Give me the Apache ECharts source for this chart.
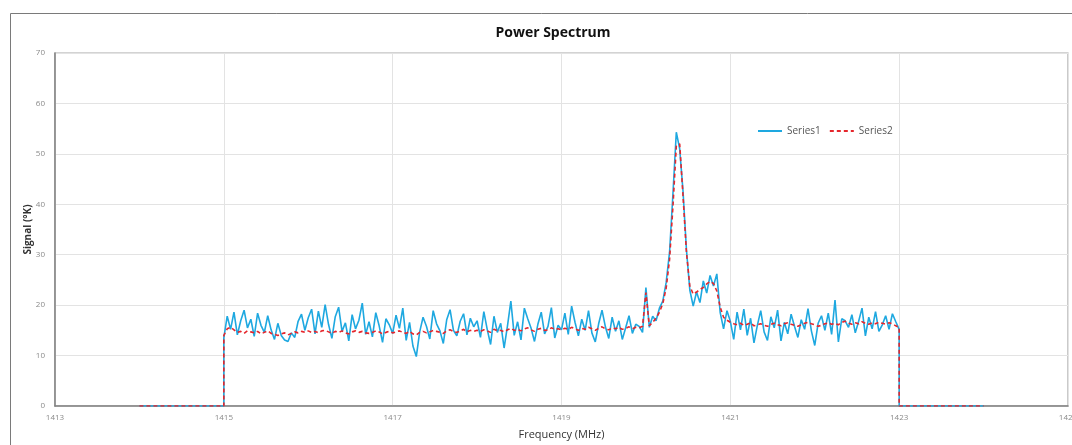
<!DOCTYPE html>
<html>
<head>
<meta charset="utf-8">
<script src="https://cdn.jsdelivr.net/npm/echarts@6/dist/echarts.min.js"></script>
<style>
  html, body { margin: 0; padding: 0; background: #fff; }
  #chart { width: 1072px; height: 445px; }
</style>
</head>
<body>
<div id="chart"></div>
<script>
// frequency grid of the measured band (MHz)
const bandStart = 1415
const bandStep = 0.04
// zero padding outside the band
const padLeft = 1414
const padRight = 1424

// Series1 - raw signal (°K), 1415.00 .. 1423.00
const series1 = [
  // 1415
  13.5, 17.8, 15.2, 18.6, 14.1, 16.9, 19.0, 15.5, 17.2, 13.8, 18.4, 16.0, 14.6, 17.9, 15.1, 13.2, 16.4, 14.0, 13.1, 12.8, 14.5, 13.6, 16.8, 18.2, 15.0,
  // 1416
  17.5, 19.2, 14.3, 18.8, 15.6, 20.1, 16.2, 13.4, 17.7, 19.6, 14.8, 16.5, 12.9, 18.1, 15.3, 17.0, 20.4, 14.2, 16.7, 13.7, 18.5, 15.9, 12.6, 17.3, 16.1,
  // 1417
  14.4, 18.0, 15.4, 19.4, 13.0, 16.6, 11.9, 9.8, 14.7, 17.6, 15.8, 13.3, 18.9, 16.3, 14.9, 12.4, 17.1, 19.1, 15.0, 13.9, 16.8, 18.3, 14.1, 17.4, 15.7,
  // 1418
  16.9, 13.6, 18.7, 15.2, 12.2, 17.8, 14.6, 16.4, 11.5, 15.9, 20.8, 14.0, 16.7, 13.1, 19.4, 17.3, 15.4, 12.8, 16.2, 18.6, 14.3, 15.8, 19.5, 13.5, 16.0,
  // 1419
  15.1, 18.4, 14.2, 19.8, 16.6, 13.9, 17.2, 15.0, 18.9, 14.5, 12.7, 16.3, 19.0, 15.7, 13.4, 17.6, 14.8, 16.9, 13.2, 15.5, 17.9, 14.4, 16.2, 15.8, 14.6,
  // 1420
  23.5, 15.6, 17.8, 16.9, 19.4, 20.8, 24.5, 30.5, 42.0, 54.3, 51.0, 42.5, 31.0, 23.0, 19.8, 22.6, 20.5, 24.8, 22.4, 25.9, 23.8, 26.2, 18.5, 15.3, 18.9,
  // 1421
  16.8, 13.2, 18.6, 15.1, 19.2, 14.0, 17.4, 12.5, 16.0, 18.9, 14.7, 13.0, 17.7, 15.5, 19.0, 12.9, 16.6, 14.3, 18.2, 15.8, 13.6, 17.1, 15.2, 19.3, 14.9,
  // 1422
  12.0, 16.4, 17.9, 15.0, 18.4, 14.2, 21.0, 12.7, 17.3, 16.9, 15.6, 18.1, 14.5, 16.8, 19.4, 13.9, 17.6, 15.3, 18.7, 14.8, 16.1, 17.9, 15.2, 18.3, 16.7,
  // 1423
  15.2,
]

// Series2 - smoothed signal (°K), same grid
const series2 = [
  // 1415
  14.0, 15.3, 15.6, 15.1, 14.6, 14.8, 14.4, 14.9, 14.7, 14.5, 14.8, 14.3, 14.6, 14.9, 14.4, 14.2, 14.0, 14.3, 14.5, 14.1, 14.4, 14.7, 14.5, 14.8, 14.6,
  // 1416
  14.9, 14.6, 14.8, 14.5, 14.9, 15.0, 14.7, 14.4, 14.8, 14.6, 14.9, 14.5, 14.3, 14.7, 14.9, 14.6, 14.8, 14.5, 14.4, 14.6, 14.9, 14.7, 14.3, 14.6, 14.8,
  // 1417
  14.5, 14.7, 14.9, 14.6, 14.4, 14.8, 14.3, 14.1, 14.6, 14.8, 14.5, 14.7, 15.0, 14.8, 14.6, 14.4, 14.9, 15.1, 14.8, 14.6, 14.9, 15.2, 14.7, 15.0, 14.8,
  // 1418
  15.0, 14.8, 15.1, 14.9, 14.6, 15.2, 14.9, 15.0, 14.7, 15.1, 15.4, 15.0, 15.2, 14.9, 15.3, 15.5, 15.1, 14.8, 15.2, 15.4, 15.0, 15.1, 15.5, 15.2, 15.3,
  // 1419
  15.1, 15.4, 15.2, 15.6, 15.3, 15.0, 15.4, 15.2, 15.6, 15.3, 15.0, 15.4, 15.7, 15.3, 15.1, 15.5, 15.3, 15.6, 15.2, 15.4, 15.7, 15.3, 15.6, 15.5, 15.8,
  // 1420
  22.5, 15.9, 16.6, 17.4, 18.6, 20.3, 23.4, 29.0, 39.5, 51.5, 52.0, 41.5, 30.5, 23.8, 22.2, 22.6, 23.1, 23.5, 24.2, 24.7, 24.3, 22.8, 19.6, 17.6, 17.0,
  // 1421
  16.6, 16.3, 16.1, 16.4, 16.0, 16.2, 16.5, 15.9, 16.1, 16.3, 16.0, 15.8, 16.2, 16.4, 16.1, 15.9, 16.3, 16.5, 16.2, 16.0, 15.8, 16.1, 16.4, 16.6, 16.3,
  // 1422
  16.1, 15.8, 16.0, 16.3, 16.5, 16.2, 16.4, 16.1, 16.6, 16.8, 16.4, 16.2, 16.5, 16.3, 16.7, 16.4, 16.2, 16.5, 16.3, 16.6, 16.4, 16.2, 16.5, 16.3, 15.9,
  // 1423
  15.6,
]

// [freq, value] pairs, with the zero-level band edges
const toPairs = (vals) => {
  const pts = [[padLeft, 0], [bandStart, 0]]
  vals.forEach((v, i) => pts.push([+(bandStart + i * bandStep).toFixed(2), v]))
  const bandEnd = +(bandStart + (vals.length - 1) * bandStep).toFixed(2)
  pts.push([bandEnd, 0], [padRight, 0])
  return pts
}

const chart = echarts.init(document.getElementById('chart'), null, { renderer: 'canvas' })

const tickLabel = { color: '#8a8a8a', fontSize: 8, fontFamily: 'Open Sans' }

chart.setOption({
  animation: false,
  backgroundColor: '#fff',
  title: {
    text: 'Power Spectrum',
    left: 548,
    textAlign: 'center',
    top: 21,
    textStyle: { fontFamily: 'Open Sans', fontWeight: 'bold', fontSize: 14, color: '#111' },
  },
  legend: {
    left: 752,
    top: 121,
    itemWidth: 24,
    itemHeight: 10,
    itemGap: 8,
    itemStyle: { opacity: 0 },
    textStyle: { fontFamily: 'Open Sans', fontSize: 10, color: '#555' },
    data: ['Series1', 'Series2'],
  },
  grid: {
    left: 55,
    right: 4,
    top: 53,
    bottom: 39,
    outerBoundsMode: 'none',
    show: true,
    borderColor: '#a8a8a8',
    borderWidth: 1.2,
  },
  graphic: [
    {
      type: 'rect',
      shape: { x: 10.5, y: 13.5, width: 1100, height: 500 },
      style: { fill: null, stroke: '#7a7a7a', lineWidth: 1 },
      silent: true,
    },
  ],
  xAxis: {
    type: 'value',
    min: 1413,
    max: 1425,
    interval: 2,
    name: 'Frequency (MHz)',
    nameLocation: 'middle',
    nameGap: 23,
    nameMoveOverlap: false,
    nameTextStyle: { fontFamily: 'Open Sans', fontSize: 11, color: '#333' },
    axisLine: { lineStyle: { color: '#808080', width: 1.5 } },
    axisTick: { show: false },
    axisLabel: { ...tickLabel, margin: 8, showMaxLabel: true, formatter: (v) => String(v) },
    splitLine: { show: true, lineStyle: { color: '#e3e3e3' } },
  },
  yAxis: {
    type: 'value',
    min: 0,
    max: 70,
    interval: 10,
    name: 'Signal (°K)',
    nameLocation: 'middle',
    nameGap: 22,
    nameMoveOverlap: false,
    nameTextStyle: { fontFamily: 'Open Sans', fontSize: 10, fontWeight: 'bold', color: '#333' },
    axisLine: { show: true, lineStyle: { color: '#808080', width: 1.5 } },
    axisTick: { show: false },
    axisLabel: { ...tickLabel, margin: 10 },
    splitLine: { show: true, lineStyle: { color: '#e3e3e3' } },
  },
  series: [
    {
      name: 'Series1',
      type: 'line',
      showSymbol: false,
      symbol: 'none',
      color: '#1ea8e0',
      lineStyle: { color: '#1ea8e0', width: 1.6 },
      data: toPairs(series1),
      z: 2,
    },
    {
      name: 'Series2',
      type: 'line',
      showSymbol: false,
      symbol: 'none',
      color: '#e5262c',
      lineStyle: { color: '#e5262c', width: 1.6, type: [4, 3] },
      data: toPairs(series2),
      z: 3,
    },
  ],
})
</script>
</body>
</html>
